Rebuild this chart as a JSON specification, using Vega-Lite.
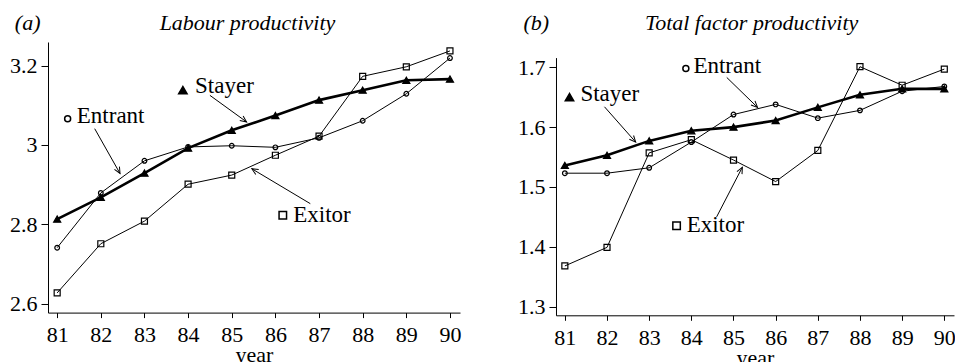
{
  "$schema": "https://vega.github.io/schema/vega-lite/v6.json",
  "background": "white",
  "padding": {"left": 9, "top": 12, "right": 0, "bottom": 0},
  "config": {
    "view": {"stroke": null},
    "font": "Times New Roman",
    "text": {"font": "Times New Roman"},
    "axis": {"grid": false, "domainColor": "black", "tickColor": "black", "labelColor": "black", "titleColor": "black", "labelFont": "Times New Roman", "titleFont": "Times New Roman", "labelFontSize": 22, "titleFontSize": 22, "titleFontWeight": "normal", "domainWidth": 1, "tickWidth": 1},
    "axisX": {"tickSize": 5, "labelPadding": 7, "titlePadding": -1},
    "axisY": {"tickSize": 7, "labelPadding": 4},
    "concat": {"spacing": 56}
  },
  "datasets": {
    "a": [
      {"series": "Stayer", "year": 81, "value": 2.813}, {"series": "Stayer", "year": 82, "value": 2.868}, {"series": "Stayer", "year": 83, "value": 2.929}, {"series": "Stayer", "year": 84, "value": 2.992}, {"series": "Stayer", "year": 85, "value": 3.037}, {"series": "Stayer", "year": 86, "value": 3.074}, {"series": "Stayer", "year": 87, "value": 3.113}, {"series": "Stayer", "year": 88, "value": 3.138}, {"series": "Stayer", "year": 89, "value": 3.163}, {"series": "Stayer", "year": 90, "value": 3.166},
      {"series": "Entrant", "year": 81, "value": 2.741}, {"series": "Entrant", "year": 82, "value": 2.879}, {"series": "Entrant", "year": 83, "value": 2.960}, {"series": "Entrant", "year": 84, "value": 2.995}, {"series": "Entrant", "year": 85, "value": 2.998}, {"series": "Entrant", "year": 86, "value": 2.994}, {"series": "Entrant", "year": 87, "value": 3.018}, {"series": "Entrant", "year": 88, "value": 3.061}, {"series": "Entrant", "year": 89, "value": 3.129}, {"series": "Entrant", "year": 90, "value": 3.219},
      {"series": "Exitor", "year": 81, "value": 2.627}, {"series": "Exitor", "year": 82, "value": 2.751}, {"series": "Exitor", "year": 83, "value": 2.808}, {"series": "Exitor", "year": 84, "value": 2.901}, {"series": "Exitor", "year": 85, "value": 2.924}, {"series": "Exitor", "year": 86, "value": 2.974}, {"series": "Exitor", "year": 87, "value": 3.022}, {"series": "Exitor", "year": 88, "value": 3.173}, {"series": "Exitor", "year": 89, "value": 3.197}, {"series": "Exitor", "year": 90, "value": 3.237}
    ],
    "b": [
      {"series": "Stayer", "year": 81, "value": 1.536}, {"series": "Stayer", "year": 82, "value": 1.553}, {"series": "Stayer", "year": 83, "value": 1.577}, {"series": "Stayer", "year": 84, "value": 1.594}, {"series": "Stayer", "year": 85, "value": 1.600}, {"series": "Stayer", "year": 86, "value": 1.611}, {"series": "Stayer", "year": 87, "value": 1.633}, {"series": "Stayer", "year": 88, "value": 1.654}, {"series": "Stayer", "year": 89, "value": 1.664}, {"series": "Stayer", "year": 90, "value": 1.664},
      {"series": "Entrant", "year": 81, "value": 1.523}, {"series": "Entrant", "year": 82, "value": 1.523}, {"series": "Entrant", "year": 83, "value": 1.532}, {"series": "Entrant", "year": 84, "value": 1.575}, {"series": "Entrant", "year": 85, "value": 1.621}, {"series": "Entrant", "year": 86, "value": 1.638}, {"series": "Entrant", "year": 87, "value": 1.615}, {"series": "Entrant", "year": 88, "value": 1.628}, {"series": "Entrant", "year": 89, "value": 1.660}, {"series": "Entrant", "year": 90, "value": 1.668},
      {"series": "Exitor", "year": 81, "value": 1.368}, {"series": "Exitor", "year": 82, "value": 1.399}, {"series": "Exitor", "year": 83, "value": 1.557}, {"series": "Exitor", "year": 84, "value": 1.579}, {"series": "Exitor", "year": 85, "value": 1.545}, {"series": "Exitor", "year": 86, "value": 1.509}, {"series": "Exitor", "year": 87, "value": 1.561}, {"series": "Exitor", "year": 88, "value": 1.701}, {"series": "Exitor", "year": 89, "value": 1.670}, {"series": "Exitor", "year": 90, "value": 1.697}
    ],
    "a_labels": [{"year": 84.16, "value": 3.148, "label": "Stayer"}, {"year": 81.45, "value": 3.072, "label": "Entrant"}, {"year": 86.41, "value": 2.823, "label": "Exitor"}],
    "a_keys": [{"year": 83.88, "value": 3.138, "series": "Stayer"}, {"year": 81.24, "value": 3.066, "series": "Entrant"}, {"year": 86.17, "value": 2.823, "series": "Exitor"}],
    "a_arrows": [{"year": 84.50, "value": 3.125, "year2": 85.34, "value2": 3.058, "angle": 36}, {"year": 81.86, "value": 3.041, "year2": 82.44, "value2": 2.928, "angle": 61}, {"year": 86.80, "value": 2.852, "year2": 85.46, "value2": 2.940, "angle": 211}],
    "a_tag": [{"year": 80.03, "value": 3.3066, "label": "(a)"}],
    "a_title": [{"year": 85.36, "value": 3.3066, "label": "Labour productivity"}],
    "b_labels": [{"year": 81.37, "value": 1.656, "label": "Stayer"}, {"year": 84.05, "value": 1.702, "label": "Entrant"}, {"year": 83.89, "value": 1.436, "label": "Exitor"}],
    "b_keys": [{"year": 81.11, "value": 1.650, "series": "Stayer"}, {"year": 83.87, "value": 1.698, "series": "Entrant"}, {"year": 83.65, "value": 1.435, "series": "Exitor"}],
    "b_arrows": [{"year": 81.94, "value": 1.634, "year2": 82.68, "value2": 1.575, "angle": 48}, {"year": 84.84, "value": 1.683, "year2": 85.57, "value2": 1.633, "angle": 44}, {"year": 84.60, "value": 1.450, "year2": 85.21, "value2": 1.533, "angle": -63}],
    "b_tag": [{"year": 80.02, "value": 1.7735, "label": "(b)"}],
    "b_title": [{"year": 85.43, "value": 1.7735, "label": "Total factor productivity"}]
  },
  "hconcat": [
    {
      "width": 412,
      "height": 273.3,
      "encoding": {
        "x": {"field": "year", "type": "quantitative", "scale": {"domain": [80.79, 90.23], "nice": false, "zero": false}, "axis": {"values": [81, 82, 83, 84, 85, 86, 87, 88, 89, 90], "format": "d", "title": "year", "offset": -2.7}},
        "y": {"field": "value", "type": "quantitative", "scale": {"domain": [2.5774, 3.2595], "nice": false, "zero": false, "range": [270.6, 0]}, "axis": {"values": [2.6, 2.8, 3, 3.2], "format": "~g", "title": null}}
      },
      "layer": [
        {
          "data": {"name": "a"},
          "mark": {"type": "line", "color": "black"},
          "encoding": {
            "detail": {"field": "series", "type": "nominal"},
            "strokeWidth": {"condition": {"test": "datum.series === 'Stayer'", "value": 2.6}, "value": 1}
          }
        },
        {
          "data": {"name": "a"},
          "mark": {"type": "point", "filled": false, "stroke": "black", "fill": "black", "opacity": 1, "strokeWidth": 1.2},
          "encoding": {
            "shape": {"field": "series", "type": "nominal", "scale": {"domain": ["Stayer", "Entrant", "Exitor"], "range": ["triangle-up", "circle", "square"]}, "legend": null},
            "fillOpacity": {"condition": {"test": "datum.series === 'Stayer'", "value": 1}, "value": 0},
            "size": {"condition": [{"test": "datum.series === 'Stayer'", "value": 50}, {"test": "datum.series === 'Exitor'", "value": 36}], "value": 22}
          }
        },
        {
          "data": {"name": "a_arrows"},
          "mark": {"type": "rule", "color": "black", "strokeWidth": 1},
          "encoding": {"x2": {"field": "year2"}, "y2": {"field": "value2"}}
        },
        {
          "data": {"name": "a_arrows"},
          "mark": {"type": "point", "shape": "M -1 -0.45 L 0 0 L -1 0.45", "filled": false, "stroke": "black", "strokeWidth": 1, "opacity": 1, "size": 160},
          "encoding": {
            "x": {"field": "year2", "type": "quantitative"},
            "y": {"field": "value2", "type": "quantitative"},
            "angle": {"field": "angle", "type": "quantitative", "scale": null}
          }
        },
        {
          "data": {"name": "a_keys"},
          "mark": {"type": "point", "filled": false, "stroke": "black", "fill": "black", "opacity": 1, "strokeWidth": 1.5},
          "encoding": {
            "shape": {"field": "series", "type": "nominal", "scale": {"domain": ["Stayer", "Entrant", "Exitor"], "range": ["triangle-up", "circle", "square"]}, "legend": null},
            "fillOpacity": {"condition": {"test": "datum.series === 'Stayer'", "value": 1}, "value": 0},
            "size": {"condition": [{"test": "datum.series === 'Stayer'", "value": 70}, {"test": "datum.series === 'Exitor'", "value": 56}], "value": 36}
          }
        },
        {
          "data": {"name": "a_labels"},
          "mark": {"type": "text", "align": "left", "baseline": "middle", "font": "Times New Roman", "fontSize": 23, "color": "black"},
          "encoding": {"text": {"field": "label"}}
        },
        {
          "data": {"name": "a_tag"},
          "mark": {"type": "text", "align": "left", "baseline": "middle", "font": "Times New Roman", "fontSize": 22, "fontStyle": "italic", "color": "black"},
          "encoding": {"text": {"field": "label"}}
        },
        {
          "data": {"name": "a_title"},
          "mark": {"type": "text", "align": "center", "baseline": "middle", "font": "Times New Roman", "fontSize": 22, "fontStyle": "italic", "color": "black"},
          "encoding": {"text": {"field": "label"}}
        }
      ]
    },
    {
      "width": 398,
      "height": 273.3,
      "encoding": {
        "x": {"field": "year", "type": "quantitative", "scale": {"domain": [80.79, 90.23], "nice": false, "zero": false}, "axis": {"values": [81, 82, 83, 84, 85, 86, 87, 88, 89, 90], "format": "d", "title": "year"}},
        "y": {"field": "value", "type": "quantitative", "scale": {"domain": [1.2855, 1.7162], "nice": false, "zero": false, "range": [273.3, 15.6]}, "axis": {"values": [1.3, 1.4, 1.5, 1.6, 1.7], "format": "~g", "title": null}}
      },
      "layer": [
        {
          "data": {"name": "b"},
          "mark": {"type": "line", "color": "black"},
          "encoding": {
            "detail": {"field": "series", "type": "nominal"},
            "strokeWidth": {"condition": {"test": "datum.series === 'Stayer'", "value": 2.6}, "value": 1}
          }
        },
        {
          "data": {"name": "b"},
          "mark": {"type": "point", "filled": false, "stroke": "black", "fill": "black", "opacity": 1, "strokeWidth": 1.2},
          "encoding": {
            "shape": {"field": "series", "type": "nominal", "scale": {"domain": ["Stayer", "Entrant", "Exitor"], "range": ["triangle-up", "circle", "square"]}, "legend": null},
            "fillOpacity": {"condition": {"test": "datum.series === 'Stayer'", "value": 1}, "value": 0},
            "size": {"condition": [{"test": "datum.series === 'Stayer'", "value": 50}, {"test": "datum.series === 'Exitor'", "value": 36}], "value": 22}
          }
        },
        {
          "data": {"name": "b_arrows"},
          "mark": {"type": "rule", "color": "black", "strokeWidth": 1},
          "encoding": {"x2": {"field": "year2"}, "y2": {"field": "value2"}}
        },
        {
          "data": {"name": "b_arrows"},
          "mark": {"type": "point", "shape": "M -1 -0.45 L 0 0 L -1 0.45", "filled": false, "stroke": "black", "strokeWidth": 1, "opacity": 1, "size": 160},
          "encoding": {
            "x": {"field": "year2", "type": "quantitative"},
            "y": {"field": "value2", "type": "quantitative"},
            "angle": {"field": "angle", "type": "quantitative", "scale": null}
          }
        },
        {
          "data": {"name": "b_keys"},
          "mark": {"type": "point", "filled": false, "stroke": "black", "fill": "black", "opacity": 1, "strokeWidth": 1.5},
          "encoding": {
            "shape": {"field": "series", "type": "nominal", "scale": {"domain": ["Stayer", "Entrant", "Exitor"], "range": ["triangle-up", "circle", "square"]}, "legend": null},
            "fillOpacity": {"condition": {"test": "datum.series === 'Stayer'", "value": 1}, "value": 0},
            "size": {"condition": [{"test": "datum.series === 'Stayer'", "value": 70}, {"test": "datum.series === 'Exitor'", "value": 56}], "value": 36}
          }
        },
        {
          "data": {"name": "b_labels"},
          "mark": {"type": "text", "align": "left", "baseline": "middle", "font": "Times New Roman", "fontSize": 23, "color": "black"},
          "encoding": {"text": {"field": "label"}}
        },
        {
          "data": {"name": "b_tag"},
          "mark": {"type": "text", "align": "left", "baseline": "middle", "font": "Times New Roman", "fontSize": 22, "fontStyle": "italic", "color": "black"},
          "encoding": {"text": {"field": "label"}}
        },
        {
          "data": {"name": "b_title"},
          "mark": {"type": "text", "align": "center", "baseline": "middle", "font": "Times New Roman", "fontSize": 22, "fontStyle": "italic", "color": "black"},
          "encoding": {"text": {"field": "label"}}
        }
      ]
    }
  ]
}
